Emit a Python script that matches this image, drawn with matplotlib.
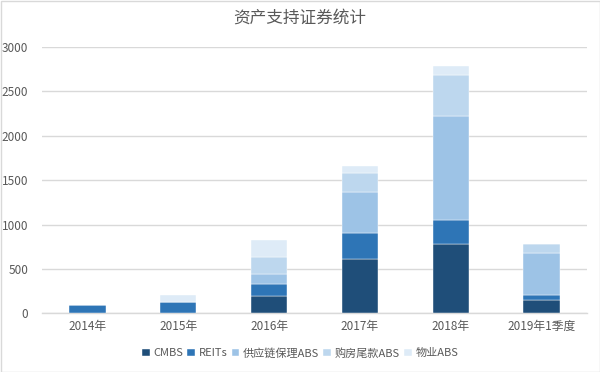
import numpy as np
import matplotlib
matplotlib.use('Agg')
import matplotlib.pyplot as plt
from matplotlib.patches import Rectangle

plt.rcParams['font.family'] = ['Noto Sans CJK SC', 'DejaVu Sans']

categories = ['2014年', '2015年', '2016年', '2017年', '2018年', '2019年1季度']
series_names = ['CMBS', 'REITs', '供应链保理ABS', '购房尾款ABS', '物业ABS']
cmbs = [0, 0, 198, 611, 780, 154]
reits = [89, 131, 132, 293, 270, 49]
supply_chain = [0, 0, 113, 461, 1174, 480]
house_tail = [0, 0, 188, 218, 462, 93]
property_abs = [0, 75, 195, 71, 101, 0]
colors = ['#1F4E79', '#2E75B6', '#9DC3E6', '#BDD7EE', '#DEEBF7']

series = [cmbs, reits, supply_chain, house_tail, property_abs]

fig = plt.figure(figsize=(6, 3.72), dpi=100)
ax = fig.add_axes([42 / 600, 1 - 313.3 / 372, 545 / 600, 266.3 / 372])

x = np.arange(len(categories))
bottom = np.zeros(len(categories))
for name, vals, c in zip(series_names, series, colors):
    ax.bar(x, vals, width=0.4, bottom=bottom, color=c, label=name,
           edgecolor='white', linewidth=0.3, zorder=3)
    bottom += np.array(vals)

ax.set_xlim(-0.5, len(categories) - 0.5)
ax.set_ylim(0, 3000)
ax.set_yticks(np.arange(0, 3001, 500))
ax.set_xticks(x)
ax.set_xticklabels(categories)
ax.tick_params(axis='both', length=0, colors='#595959', labelsize=8.5)
ax.tick_params(axis='y', pad=10)
ax.tick_params(axis='x', pad=5)
ax.grid(axis='y', color='#d9d9d9', linewidth=1, zorder=0)
for s in ['top', 'right', 'left']:
    ax.spines[s].set_visible(False)
ax.spines['bottom'].set_color('#d9d9d9')
ax.spines['bottom'].set_linewidth(1)

fig.text(0.5, 1 - 18 / 372, '资产支持证券统计', ha='center', va='center',
         fontsize=12, color='#595959')

leg = fig.legend(loc='center', bbox_to_anchor=(300 / 600, 1 - 353 / 372), ncol=5,
                 frameon=False, fontsize=8, handlelength=0.7, handleheight=0.7,
                 handletextpad=0.3, columnspacing=0.4)
for t in leg.get_texts():
    t.set_color('#595959')

fig.patches.append(Rectangle((0.5 / 600, 0.5 / 372), 599 / 600, 371 / 372,
                             transform=fig.transFigure, fill=False,
                             edgecolor='#d9d9d9', linewidth=1))

plt.savefig('out.png', dpi=100)
